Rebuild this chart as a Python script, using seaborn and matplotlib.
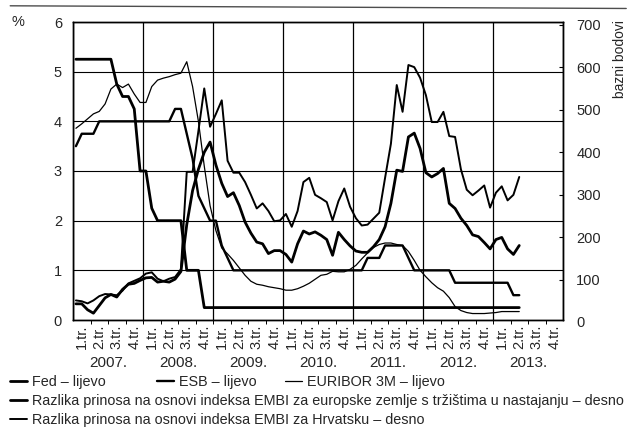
import numpy as np
import pandas as pd
import seaborn as sns
import matplotlib.pyplot as plt
from matplotlib.lines import Line2D

# monthly values, Jan 2007 - May 2013 (one row per year)
fed = [5.25, 5.25, 5.25, 5.25, 5.25, 5.25, 5.25, 4.75, 4.5, 4.5, 4.25, 3.0,
       3.0, 2.25, 2.0, 2.0, 2.0, 2.0, 2.0, 1.0, 1.0, 1.0, 0.25, 0.25,
       0.25, 0.25, 0.25, 0.25, 0.25, 0.25, 0.25, 0.25, 0.25, 0.25, 0.25, 0.25,
       0.25, 0.25, 0.25, 0.25, 0.25, 0.25, 0.25, 0.25, 0.25, 0.25, 0.25, 0.25,
       0.25, 0.25, 0.25, 0.25, 0.25, 0.25, 0.25, 0.25, 0.25, 0.25, 0.25, 0.25,
       0.25, 0.25, 0.25, 0.25, 0.25, 0.25, 0.25, 0.25, 0.25, 0.25, 0.25, 0.25,
       0.25, 0.25, 0.25, 0.25, 0.25]
esb = [3.5, 3.75, 3.75, 3.75, 4.0, 4.0, 4.0, 4.0, 4.0, 4.0, 4.0, 4.0,
       4.0, 4.0, 4.0, 4.0, 4.0, 4.25, 4.25, 3.75, 3.25, 2.5, 2.25, 2.0,
       2.0, 1.5, 1.25, 1.0, 1.0, 1.0, 1.0, 1.0, 1.0, 1.0, 1.0, 1.0,
       1.0, 1.0, 1.0, 1.0, 1.0, 1.0, 1.0, 1.0, 1.0, 1.0, 1.0, 1.0,
       1.0, 1.0, 1.25, 1.25, 1.25, 1.5, 1.5, 1.5, 1.5, 1.25, 1.0, 1.0,
       1.0, 1.0, 1.0, 1.0, 1.0, 0.75, 0.75, 0.75, 0.75, 0.75, 0.75, 0.75,
       0.75, 0.75, 0.75, 0.5, 0.5]
euribor = [3.86, 3.95, 4.05, 4.15, 4.2, 4.35, 4.65, 4.75, 4.68, 4.75, 4.55, 4.38,
           4.38, 4.7, 4.83, 4.87, 4.9, 4.94, 4.97, 5.2, 4.7, 4.0, 3.1, 2.3,
           1.8, 1.45, 1.33, 1.2, 1.05, 0.9, 0.78, 0.72, 0.7, 0.67, 0.65, 0.63,
           0.6, 0.6, 0.63, 0.68, 0.74, 0.82, 0.9, 0.92, 0.98, 0.97, 0.97, 1.02,
           1.1, 1.23, 1.35, 1.46, 1.52, 1.55, 1.55, 1.52, 1.5, 1.38, 1.2, 1.0,
           0.87, 0.75, 0.65, 0.58, 0.45, 0.27, 0.19, 0.15, 0.13, 0.13, 0.13, 0.14,
           0.15, 0.17, 0.17, 0.17, 0.17]
embi_europa = [44, 44, 30, 22, 40, 58, 66, 60, 78, 90, 92, 99,
               105, 106, 95, 97, 95, 102, 120, 230, 310, 360, 400, 424,
               370, 327, 296, 305, 275, 236, 210, 189, 185, 162, 169, 169,
               160, 142, 185, 215, 208, 213, 205, 195, 158, 212, 195, 180,
               168, 165, 165, 178, 195, 225, 280, 358, 355, 436, 445, 409,
               352, 342, 350, 362, 280, 268, 245, 228, 206, 202, 188, 173,
               195, 200, 173, 160, 181]
embi_hrvatska = [52, 50, 45, 52, 62, 67, 66, 64, 75, 92, 98, 104,
                 115, 118, 103, 97, 103, 107, 125, 354, 354, 450, 550, 460,
                 490, 522, 380, 352, 352, 330, 300, 268, 280, 262, 238, 240,
                 255, 225, 262, 330, 340, 300, 292, 283, 240, 285, 315, 272,
                 245, 228, 230, 244, 258, 340, 420, 558, 495, 605, 600, 575,
                 534, 471, 471, 495, 438, 436, 360, 312, 299, 310, 322, 270,
                 305, 320, 287, 300, 342]

years = ['2007.', '2008.', '2009.', '2010.', '2011.', '2012.', '2013.']
quarters = ['1.tr.', '2.tr.', '3.tr.', '4.tr.']
labels = ['Fed – lijevo', 'ESB – lijevo', 'EURIBOR 3M – lijevo',
          'Razlika prinosa na osnovi indeksa EMBI za europske zemlje s tržištima u nastajanju – desno',
          'Razlika prinosa na osnovi indeksa EMBI za Hrvatsku – desno']

x = np.arange(len(fed)) + 0.5
df = pd.DataFrame({'m': x, 'fed': fed, 'esb': esb, 'euribor': euribor,
                   'eu': embi_europa, 'hr': embi_hrvatska})

sns.set_style('white')
plt.rcParams['font.family'] = ['Liberation Sans', 'DejaVu Sans']

fig = plt.figure(figsize=(6.39, 4.46), dpi=100)
ax = fig.add_axes([73 / 639, 1 - 320 / 446, 490 / 639, 298 / 446])
ax2 = ax.twinx()

sns.lineplot(data=df, x='m', y='fed', ax=ax, color='black', lw=2.0, label=labels[0])
sns.lineplot(data=df, x='m', y='esb', ax=ax, color='black', lw=1.7, label=labels[1])
sns.lineplot(data=df, x='m', y='euribor', ax=ax, color='black', lw=0.9, label=labels[2])
sns.lineplot(data=df, x='m', y='eu', ax=ax2, color='black', lw=2.0, label=labels[3])
sns.lineplot(data=df, x='m', y='hr', ax=ax2, color='black', lw=1.4, label=labels[4])

h1, _ = ax.get_legend_handles_labels()
h2, _ = ax2.get_legend_handles_labels()
ax.get_legend().remove()
ax2.get_legend().remove()

# left axis
ax.set_xlim(0, 84)
ax.set_ylim(0, 6)
ax.set_yticks(range(7))
ax.tick_params(axis='y', length=0, pad=8, labelsize=10.5)
ax.set_xlabel('')
ax.set_ylabel('')
ax.grid(axis='y', color='black', lw=0.8)

ax.set_xticks(np.arange(1.5, 84, 3))
ax.set_xticklabels(quarters * len(years), rotation=90, va='top')
ax.tick_params(axis='x', which='major', length=0, pad=3, labelsize=10.5)
ax.set_xticks(np.arange(0, 85, 12), minor=True)
ax.tick_params(axis='x', which='minor', length=37, width=0.9, color='black', direction='out')
ax.grid(axis='x', which='minor', color='black', lw=0.9)
ax.vlines(np.arange(3, 84, 3), -0.012, 0, transform=ax.get_xaxis_transform(),
          color='black', lw=0.7, clip_on=False)

for i, yr in enumerate(years):
    ax.text(i * 12 + 6, -0.144, yr, transform=ax.get_xaxis_transform(),
            ha='center', va='center', fontsize=11)

# right axis
ax2.set_ylim(6, 706)
ax2.set_yticks(range(100, 701, 100))
ax2.tick_params(axis='y', direction='in', length=3, pad=9.5, labelsize=10.5, color='black')
ax2.set_ylabel('')
ax2.text(1 + 13 / 490, 0, '0', transform=ax2.get_yaxis_transform(),
         ha='left', va='center', fontsize=10.5)

for a in (ax, ax2):
    for s in a.spines.values():
        s.set_color('black')
        s.set_linewidth(1.0)

fig.text(12 / 639, 1 - 22 / 446, '%', va='center', fontsize=10.5)
fig.text(620 / 639, 1 - 59 / 446, 'bazni bodovi', rotation=90,
         ha='center', va='center', fontsize=10)
fig.add_artist(Line2D([0.016, 0.98], [0.987, 0.981], transform=fig.transFigure,
                      color='0.3', lw=1))

# legend rows
spots = [(10, 382), (157, 382), (285, 382), (10, 401), (10, 420)]
for h, lab, (px, py) in zip(h1 + h2, labels, spots):
    fig.legend([h], [lab], loc='center left', bbox_to_anchor=(px / 639, 1 - py / 446),
               frameon=False, fontsize=10.4, handlelength=1.2, handletextpad=0.3,
               borderpad=0, borderaxespad=0)

fig.savefig('out.png', dpi=100)
